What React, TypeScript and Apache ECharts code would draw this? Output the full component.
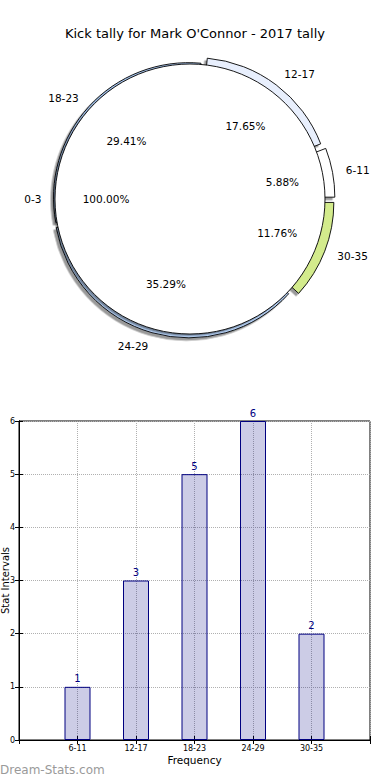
import React, { useEffect, useRef } from 'react';
import * as echarts from 'echarts';

// ---- data ----
const chartTitle = "Kick tally for Mark O'Connor - 2017 tally";
const categories = ['6-11', '12-17', '18-23', '24-29', '30-35'];
const values = [1, 3, 5, 6, 2];
const discCategories = ['0-3'];
const discValues = [1];
const yMin = 0;
const yMax = 6;
const xName = 'Frequency';
const yName = 'Stat Intervals';
const watermark = 'Dream-Stats.com';

// ---- styles ----
const sliceColors = ['#ffffff', '#e8effd', '#a9c8f2', '#b9d5fa', '#d3eb8c'];
const explodePx = [10, 8, 2, 4, 9.5];
const FONT = 'DejaVu Sans';
const CX = 190;
const CY = 199;
const R = 135;

const pct = (v: number, total: number) => ((v / total) * 100).toFixed(2) + '%';

function buildPieSeries(
  names: string[],
  vals: number[],
  colors: string[],
  offsets: number[],
  zRing: number,
  zLabel: number,
  shadow: number
) {
  const total = vals.reduce((a, b) => a + b, 0);
  const rings: any[] = [];
  const labels: any[] = [];
  names.forEach((_, i) => {
    const common = {
      type: 'pie',
      center: [CX, CY],
      startAngle: 0,
      clockwise: false,
      selectedMode: 'multiple',
      selectedOffset: offsets[i],
      avoidLabelOverlap: false,
      silent: true,
      emphasis: { disabled: true },
      animation: false,
    };
    rings.push({
      ...common,
      z: zRing,
      radius: [0, R],
      label: {
        show: true,
        position: 'outside',
        formatter: '{b}',
        color: '#000',
        fontSize: 10.5,
        fontFamily: FONT,
        distanceToLabelLine: 0,
      },
      labelLine: { show: false, length: R * 0.1, length2: 0 },
      data: names.map((n, j) => ({
        name: n,
        value: vals[j],
        selected: true,
        itemStyle:
          j === i
            ? {
                color: colors[j],
                borderColor: '#000',
                borderWidth: 0.9,
                shadowColor: 'rgba(0,0,0,0.4)',
                shadowOffsetX: -shadow,
                shadowOffsetY: shadow,
                shadowBlur: 1,
              }
            : { color: 'transparent', borderWidth: 0, shadowColor: 'transparent', shadowBlur: 0 },
        label: { show: j === i },
      })),
    });
    labels.push({
      ...common,
      z: zLabel,
      radius: [0, R * 1.2],
      label: {
        show: true,
        position: 'inside',
        formatter: (p: any) => pct(p.value, total),
        color: '#000',
        fontSize: 10.5,
        fontFamily: FONT,
      },
      labelLine: { show: false },
      data: names.map((n, j) => ({
        name: n,
        value: vals[j],
        selected: true,
        itemStyle: { color: 'transparent', borderWidth: 0 },
        label: { show: j === i },
      })),
    });
  });
  return { rings, labels };
}

export default function App() {
  const ref = useRef<HTMLDivElement>(null);
  useEffect(() => {
    if (!ref.current) return;
    const chart = echarts.init(ref.current, undefined, { renderer: 'svg' });

    const ring = buildPieSeries(categories, values, sliceColors, explodePx, 2, 6, 2.5);
    const disc = buildPieSeries(discCategories, discValues, ['#ffffff'], [0], 4, 6, 1.5);

    const option: any = {
      animation: false,
      backgroundColor: '#fff',
      textStyle: { fontFamily: FONT },
      title: {
        text: chartTitle,
        left: 'center',
        top: 22,
        textStyle: { fontSize: 13, fontWeight: 'normal', color: '#000', fontFamily: FONT },
      },
      graphic: [
        {
          type: 'text',
          left: 0,
          top: 764,
          style: { text: watermark, fill: '#9a9a9a', fontSize: 12, fontFamily: FONT },
        },
      ],
      grid: {
        left: 19,
        right: 20,
        top: 421,
        bottom: 40,
        show: true,
        containLabel: false,
        outerBoundsMode: 'none',
        borderColor: '#000',
        borderWidth: 1,
        backgroundColor: 'transparent',
      },
      xAxis: [
        {
          type: 'value',
          min: 0,
          max: categories.length + 1,
          interval: 1,
          name: xName,
          nameLocation: 'middle',
          nameGap: 14,
          nameMoveOverlap: false,
          nameTextStyle: { fontSize: 10.5, color: '#000', fontFamily: FONT },
          axisLine: { show: true, lineStyle: { color: '#000', width: 1 } },
          axisTick: { show: true, inside: true, length: 4, lineStyle: { color: '#000' } },
          axisLabel: {
            fontSize: 8,
            color: '#000',
            margin: 4,
            fontFamily: FONT,
            showMinLabel: true,
            showMaxLabel: true,
            formatter: (v: number) => categories[v - 1] ?? '',
          },
          splitLine: { show: true, lineStyle: { type: 'dotted', color: '#b0b0b0', width: 1 } },
        },
        {
          type: 'value',
          position: 'top',
          min: 0,
          max: categories.length + 1,
          interval: 1,
          axisLine: { show: true, lineStyle: { color: '#000', width: 1 } },
          axisTick: { show: true, inside: true, length: 4, lineStyle: { color: '#000' } },
          axisLabel: { show: false },
          splitLine: { show: false },
        },
      ],
      yAxis: [
        {
          type: 'value',
          min: yMin,
          max: yMax,
          interval: 1,
          name: yName,
          nameLocation: 'middle',
          nameGap: 9,
          nameMoveOverlap: false,
          nameTextStyle: { fontSize: 10, color: '#000', fontFamily: FONT },
          axisLine: { show: true, lineStyle: { color: '#000', width: 1 } },
          axisTick: { show: true, inside: true, length: 4, lineStyle: { color: '#000' } },
          axisLabel: { fontSize: 8, color: '#000', margin: 4, fontFamily: FONT },
          splitLine: { show: true, lineStyle: { type: 'dotted', color: '#b0b0b0', width: 1 } },
        },
        {
          type: 'value',
          position: 'right',
          min: yMin,
          max: yMax,
          interval: 1,
          axisLine: { show: true, lineStyle: { color: '#000', width: 1 } },
          axisTick: { show: true, inside: true, length: 4, lineStyle: { color: '#000' } },
          axisLabel: { show: false },
          splitLine: { show: false },
        },
      ],
      series: [
        ...ring.rings,
        ...disc.rings,
        ...ring.labels,
        ...disc.labels,
        {
          type: 'bar',
          xAxisIndex: 0,
          yAxisIndex: 0,
          barWidth: 26,
          data: values.map((v, i) => [i + 1, v]),
          itemStyle: { color: 'rgba(0,0,128,0.2)', borderColor: '#000080', borderWidth: 1 },
          label: {
            show: true,
            position: 'top',
            distance: 3,
            color: '#000080',
            fontSize: 10,
            fontFamily: FONT,
            formatter: (p: any) => String(p.value[1]),
          },
          silent: true,
          z: 2,
        },
      ],
    };
    chart.setOption(option);
    return () => chart.dispose();
  }, []);
  return (
    <div
      ref={ref}
      style={{ position: 'absolute', left: 0, top: 0, width: 390, height: 780 }}
    />
  );
}
